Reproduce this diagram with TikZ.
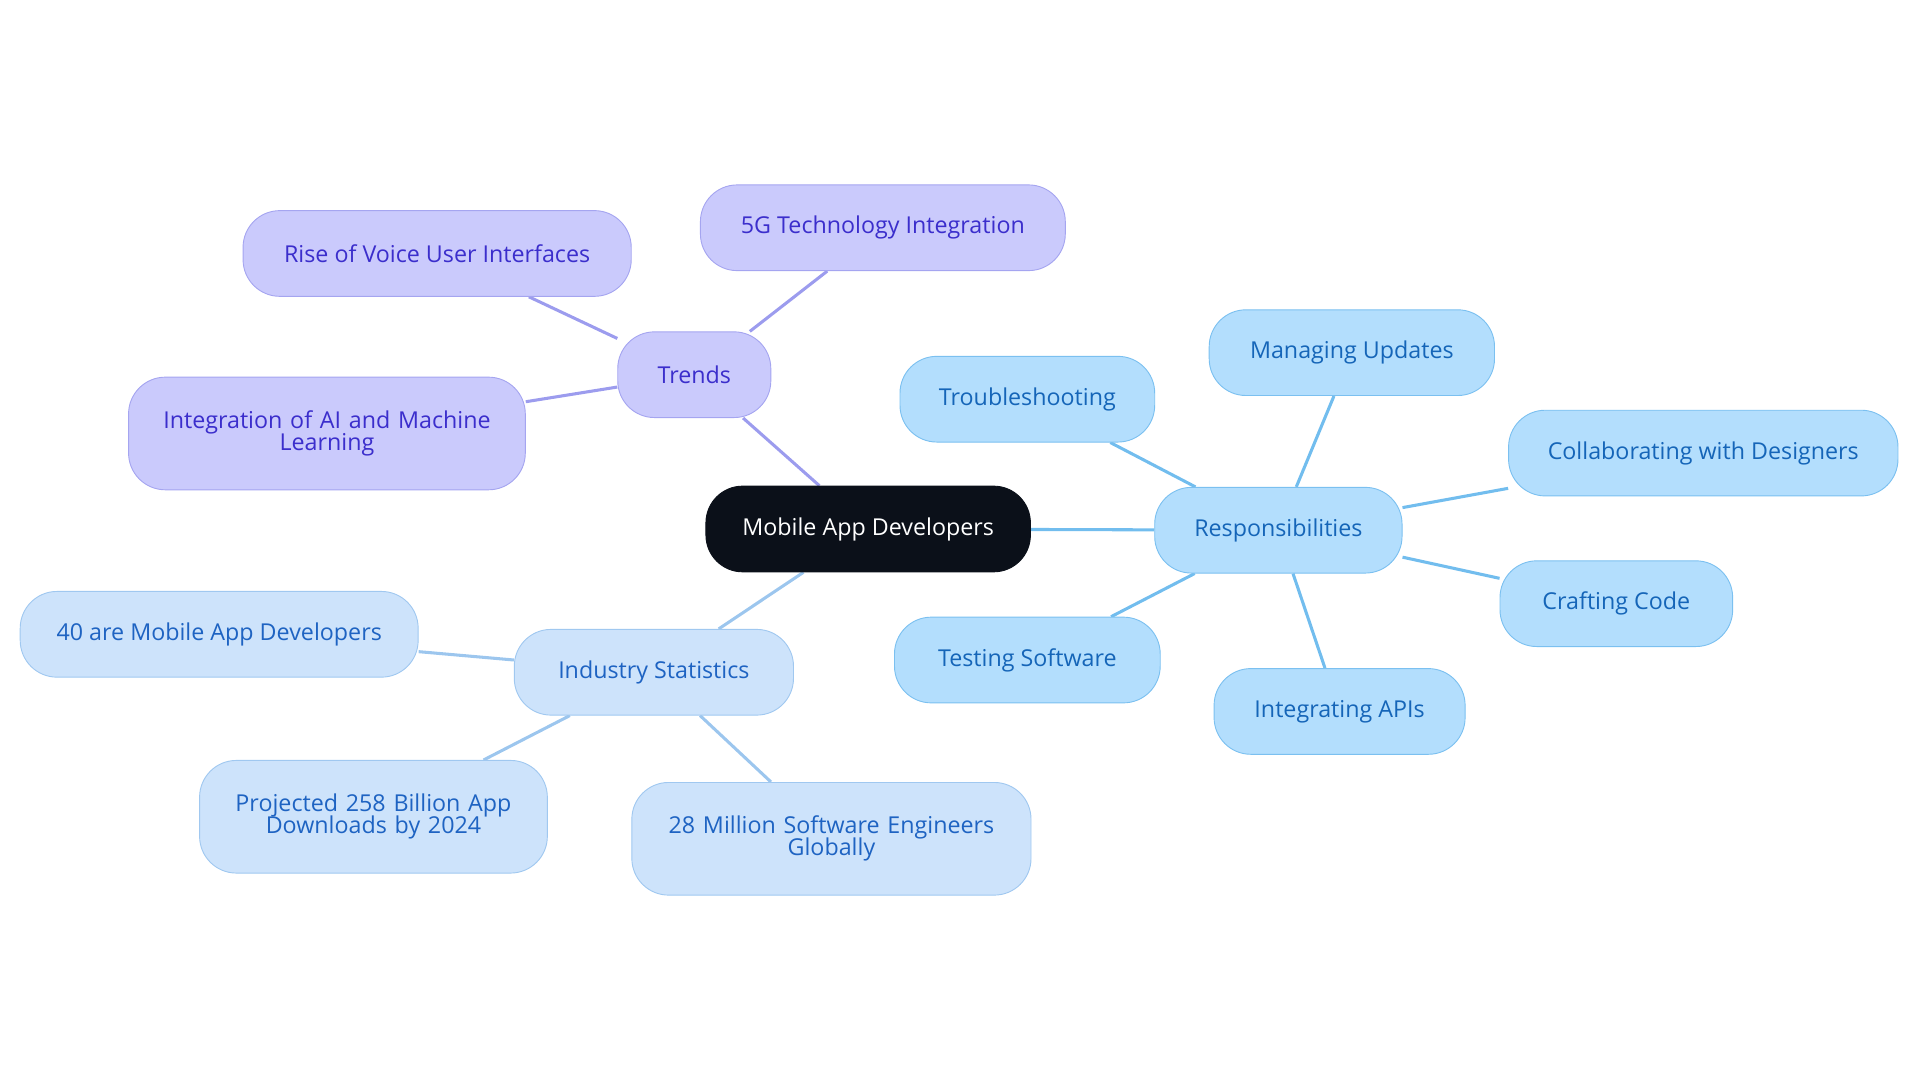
\documentclass[tikz,border=0pt]{standalone}
\usepackage{fontspec}
\setmainfont{Open Sans}
\usetikzlibrary{backgrounds}
\definecolor{rootfill}{HTML}{0B1019}
\definecolor{trfill}{HTML}{CACAFC}
\definecolor{trline}{HTML}{A5A5F0}
\definecolor{trtext}{HTML}{3B2ECC}
\definecolor{tredge}{HTML}{9C9CEE}
\definecolor{rsfill}{HTML}{B3DEFD}
\definecolor{rsline}{HTML}{7BC0F0}
\definecolor{rstext}{HTML}{1565B8}
\definecolor{rsedge}{HTML}{72BDEE}
\definecolor{isfill}{HTML}{CDE3FB}
\definecolor{isline}{HTML}{A0C8F0}
\definecolor{istext}{HTML}{1E63C2}
\definecolor{isedge}{HTML}{9CC6EE}
\tikzset{every picture/.style={line width=0.75pt}}
\tikzset{
  pill/.style={draw, rounded corners=30pt, minimum height=70pt, align=center, font=\fontsize{19}{21}\selectfont, inner sep=0pt},
  root/.style={pill, fill=rootfill, draw=rootfill, text=white},
  trend/.style={pill, fill=trfill, draw=trline, text=trtext},
  resp/.style={pill, fill=rsfill, draw=rsline, text=rstext},
  stat/.style={pill, fill=isfill, draw=isline, text=istext},
  tall/.style={minimum height=92pt},
  link/.style={line width=2.5pt}
}
\begin{document}
\begin{tikzpicture}[x=1pt,y=1pt,yscale=-1]
\useasboundingbox (0,0) rectangle (1568,884);

% root
\node[root, minimum width=265pt] (root) at (709,432) {Mobile App Developers};

% trends
\node[trend, minimum width=125pt] (trends) at (567,306) {Trends};
\node[trend, minimum width=298pt] (fiveg) at (721,186) {5G Technology Integration};
\node[trend, minimum width=317pt] (voice) at (357,207) {Rise of Voice User Interfaces};
\node[trend, tall, minimum width=324pt, text width=290pt] (aiml) at (267,354) {Integration of AI and Machine\\[-3pt]Learning};

% responsibilities
\node[resp, minimum width=202pt] (resp) at (1044,433) {Responsibilities};
\node[resp, minimum width=208pt] (trouble) at (839,326) {Troubleshooting};
\node[resp, minimum width=233pt] (updates) at (1104,288) {Managing Updates};
\node[resp, minimum width=318pt] (designers) at (1391,370) {Collaborating with Designers};
\node[resp, minimum width=190pt] (code) at (1320,493) {Crafting Code};
\node[resp, minimum width=205pt] (apis) at (1094,581) {Integrating APIs};
\node[resp, minimum width=217pt] (testing) at (839,539) {Testing Software};

% industry statistics
\node[stat, minimum width=228pt] (stats) at (534,549) {Industry Statistics};
\node[stat, minimum width=325pt] (forty) at (179,518) {40 are Mobile App Developers};
\node[stat, tall, minimum width=284pt, text width=260pt] (downloads) at (305,667) {Projected 258 Billion App\\[-3pt]Downloads by 2024};
\node[stat, tall, minimum width=326pt, text width=300pt] (engineers) at (679,685) {28 Million Software Engineers\\[-3pt]Globally};

\begin{pgfonlayer}{background}
\draw[link, tredge] (root) -- (trends);
\foreach \n in {fiveg, voice, aiml} \draw[link, tredge] (trends) -- (\n);
\draw[link, rsedge] (root) -- (resp);
\foreach \n in {trouble, updates, designers, code, apis, testing} \draw[link, rsedge] (resp) -- (\n);
\draw[link, isedge] (root) -- (stats);
\foreach \n in {forty, downloads, engineers} \draw[link, isedge] (stats) -- (\n);
\end{pgfonlayer}
\end{tikzpicture}
\end{document}
